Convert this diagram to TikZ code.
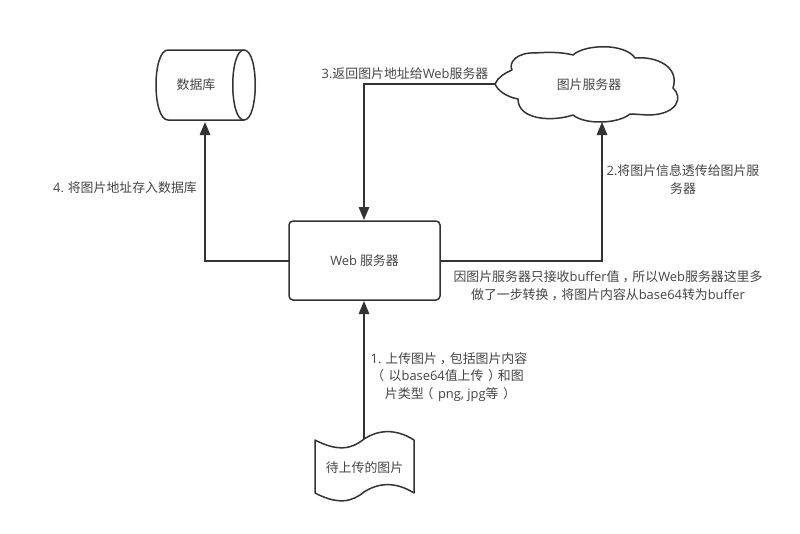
\documentclass[tikz,border=0pt]{standalone}
\usepackage{fontspec}
\setmainfont{Noto Sans CJK SC}
\newfontfamily\latinfont{Open Sans}
\newcommand{\la}[1]{{\latinfont #1}}
\newcommand{\fwcomma}{\kern3pt，\kern-3pt}
\newcommand{\fwlp}{\kern-3pt（\kern4.5pt}
\newcommand{\fwrp}{\kern4.5pt）\kern-3pt}
\usetikzlibrary{arrows.meta}
\definecolor{ink}{HTML}{333333}
\definecolor{txt}{HTML}{444444}
\tikzset{
  x=1pt,y=-1pt,
  outline/.style={draw=ink,line width=1.5pt,line join=round},
  conn/.style={draw=ink,line width=1.5pt,-{Triangle[length=13pt,width=10.5pt]}},
  label/.style={text=txt,font=\fontsize{12.9}{17.6}\selectfont,align=center,inner sep=0pt}
}
\begin{document}
\begin{tikzpicture}
\useasboundingbox (0,0) rectangle (800,533);
% shapes
\draw[outline,rounded corners=4pt] (289,221) rectangle (440,300);
\draw[outline] (168,50) -- (244,50) .. controls (259,50) and (259,120) .. (244,120) -- (168,120)
  .. controls (152,120) and (152,50) .. (168,50);
\draw[outline] (244,50) .. controls (229,50) and (229,120) .. (244,120);
\draw[outline] (495,84)
  .. controls (498,77) and (505,73) .. (512,70)
  .. controls (508,62) and (518,52) .. (535,53)
  .. controls (548,52) and (562,52) .. (573,55)
  .. controls (585,44) and (625,43) .. (635,58)
  .. controls (655,56) and (680,66) .. (673,88)
  .. controls (683,97) and (678,114) .. (650,115)
  .. controls (643,115) and (636,114) .. (630,114)
  .. controls (618,124) and (585,125) .. (573,115)
  .. controls (552,122) and (518,120) .. (518,99)
  .. controls (507,97) and (498,91) .. (495,84) -- cycle;
\draw[outline] (315,440) .. controls (338,452) and (352,449) .. (364,439)
  .. controls (378,430) and (395,428) .. (414,440) -- (414,493)
  .. controls (395,481) and (378,483) .. (364,492)
  .. controls (352,502) and (338,505) .. (315,493) -- cycle;
% nodes
\node[label] (db) at (196,85) {数据库};
\node[label] (cloud) at (589,85) {图片服务器};
\node[label] (web) at (364.5,261) {\la{Web} 服务器};
\node[label] (doc) at (364.5,468) {待上传的图片};
\coordinate (dbS) at (205,122);
\coordinate (cloudS) at (602,122);
\coordinate (cloudW) at (495,84);
\coordinate (webW) at (289,261);
\coordinate (webE) at (440,261);
\coordinate (webN) at (364,220);
\coordinate (webS) at (364,301);
\coordinate (docN) at (364,439);
% connectors
\draw[conn] (webW) -| (dbS);
\draw[conn] (webE) -| (cloudS);
\draw[conn] (cloudW) -| (webN);
\draw[conn] (docN) -- (webS);
% labels
\node[label] (l4) at (125,188) {\la{4.} 将图片地址存入数据库};
\node[label] (l3) at (405,74) {\la{3.}返回图片地址给\la{Web}服务器};
\node[label] (l2) at (683,179.5) {\la{2.}将图片信息透传给图片服\\务器};
\node[label] (lb) at (608,286) {因图片服务器只接收\la{buffer}值\fwcomma 所以\la{Web}服务器这里多\\做了一步转换\fwcomma 将图片内容从\la{base64}转为\la{buffer}};
\node[label] (l1) at (449,377) {\la{1.} 上传图片\fwcomma 包括图片内容\\\fwlp 以\la{base64}值上传\fwrp 和图\\片类型\fwlp\la{png, jpg}等\fwrp};
\end{tikzpicture}
\end{document}
